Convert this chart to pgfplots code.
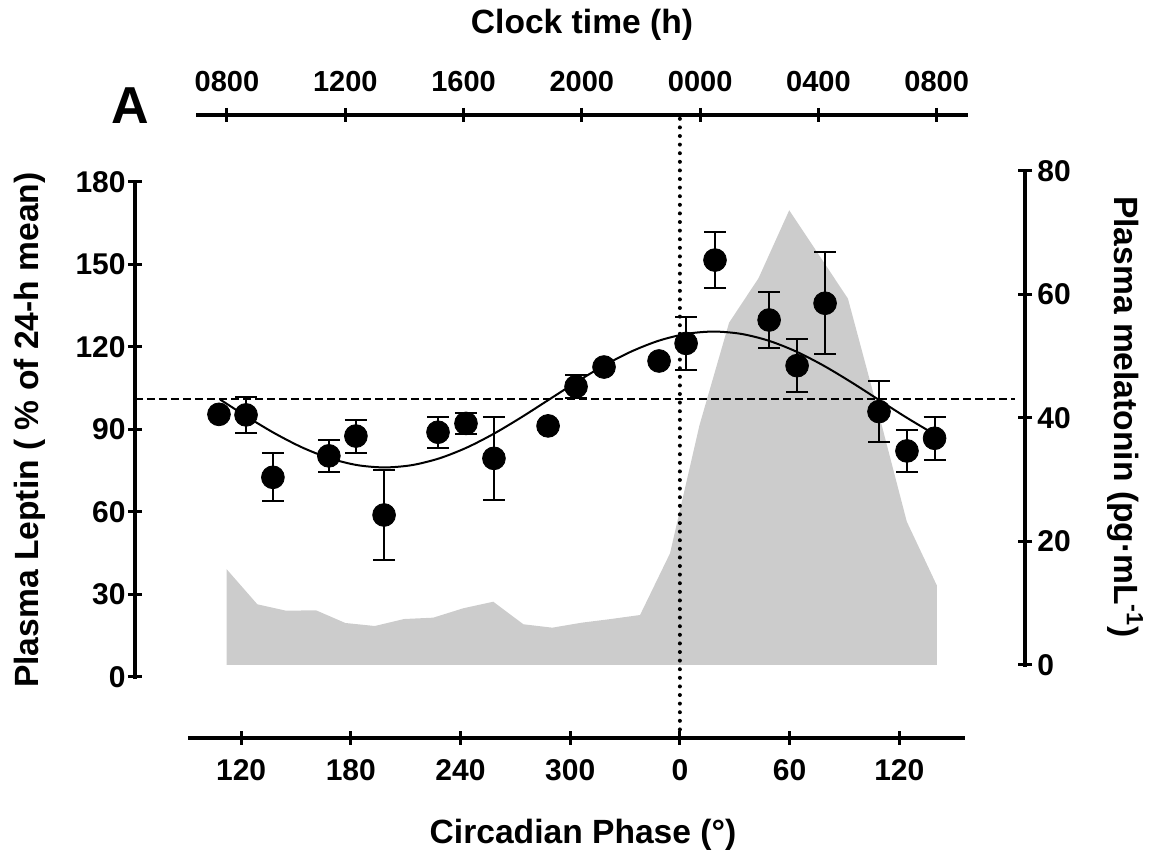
\documentclass[border=0pt]{standalone}
\usepackage{fontspec}
\setmainfont{Liberation Sans}
\usepackage{pgfplots}
\usepackage{pgfplotstable}
\pgfplotsset{compat=1.18}
\definecolor{mel}{HTML}{CCCCCC}

% leptin (% of 24-h mean): phase, mean, SEM
\pgfplotstableread{
x y e
107.9 95.4 0
122.7 95.2 6.5
137.4 72.5 8.7
168.0 80.3 5.7
182.8 87.5 6.0
198.2 58.8 16.3
227.7 88.9 5.7
243.0 92.1 3.7
258.3 79.4 15.0
287.9 91.2 0
303.2 105.5 4.2
318.5 112.6 0
348.6 114.8 0
363.4 121.2 9.6
379.2 151.5 10.3
408.8 129.7 10.3
424.1 113.1 9.6
439.4 135.8 18.5
468.9 96.4 11.2
484.2 82.1 7.7
499.3 86.7 7.8
}\leptin

% fitted cosinor curve
\pgfplotstableread{
x y
108.5 100.8
123.5 94.41
138.5 88.45
153.5 83.33
168.5 79.41
183.5 76.94
198.5 76.1
213.5 76.94
228.5 79.41
243.5 83.33
258.5 88.45
273.5 94.41
288.5 100.8
303.5 107.19
318.5 113.15
333.5 118.27
348.5 122.19
363.5 124.66
378.5 125.5
393.5 124.66
408.5 122.19
423.5 118.27
438.5 113.15
453.5 107.19
468.5 100.8
483.5 94.41
498.5 88.45
}\fit

% melatonin (pg/mL)
\pgfplotstableread{
x y
112.1 0
112.1 15.5
128.9 9.82
144.6 8.79
161.0 8.85
177.0 6.80
193.1 6.31
209.1 7.44
225.1 7.66
241.5 9.18
257.9 10.24
274.4 6.59
290.2 6.04
306.3 6.85
322.2 7.44
338.2 8.09
354.6 18.08
370.7 38.8
386.9 55.4
403.0 62.6
419.8 73.6
435.3 66.7
451.9 59.3
467.5 42.1
484.1 23.2
500.5 12.9
500.5 0
}\melat

\pgfplotsset{
  myaxis/.style={
    scale only axis, anchor=south west,
    tick style={line width=1.5pt, black},
    major tick length=7pt,
    tick align=outside,
    tick label style={font=\fontsize{15}{15}\selectfont\bfseries},
    /pgf/number format/assume math mode=true,
  },
  fixlines/.style={
    axis line style={line width=2pt, -, line cap=rect},
    x axis line style={-}, y axis line style={-},
  },
}

\begin{document}
\begin{tikzpicture}
\useasboundingbox (0,0) rectangle (575pt,430.5pt);
% melatonin (right axis)
\begin{axis}[myaxis, at={(67.5pt,98pt)}, width=445pt, height=247.15pt,
  xmin=61.97, xmax=548.76, ymin=0, ymax=80,
  axis x line=none, axis y line=right, xtick=\empty, fixlines,
  ytick={0,20,40,60,80},
  yticklabel style={inner sep=2.5pt},
  ylabel={Plasma melatonin (pg·mL\textsuperscript{-1})},
  ylabel style={at={(rel axis cs:1.1124,0.5017)}, anchor=center, rotate=180,
    font=\fontsize{16.8}{20}\selectfont\bfseries},
]
\addplot[fill=mel, draw=none] table[x=x,y=y] {\melat};
\end{axis}
% leptin (left axis)
\begin{axis}[myaxis, at={(67.5pt,92.15pt)}, width=445pt, height=247.5pt,
  xmin=61.97, xmax=548.76, ymin=0, ymax=180, clip=false,
  axis x line=none, axis y line=left, xtick=\empty, fixlines,
  ytick={0,30,...,180},
  yticklabel style={inner sep=1pt},
  ylabel={Plasma Leptin ( \% of 24-h mean)},
  ylabel style={at={(rel axis cs:-0.118,0.498)}, anchor=center,
    font=\fontsize{16.8}{20}\selectfont\bfseries},
]
\addplot[black, line width=1pt, dash pattern=on 4pt off 2pt] coordinates {(61.97,100.8) (543.3,100.8)};
\addplot[black, line width=2pt, line cap=round, dash pattern=on 0pt off 4.3pt] coordinates {(360,-22.3) (360,204.25)};
\addplot[black, line width=1pt, smooth] table[x=x,y=y] {\fit};
\addplot[only marks, mark=none, error bars/.cd, y dir=both, y explicit,
  error bar style={line width=1pt, draw=black, solid},
  error mark options={rotate=90, mark size=5.5pt, line width=1pt, draw=black}]
  table[x=x,y=y,y error=e] {\leptin};
\addplot[only marks, mark=*, mark size=5.7pt, black] table[x=x,y=y] {\leptin};
\end{axis}
% circadian phase (bottom axis)
\begin{axis}[myaxis, at={(95pt,61.5pt)}, width=386.5pt, height=20pt,
  xmin=92.05, xmax=514.85, ymin=0, ymax=1,
  axis x line=bottom, axis y line=none, ytick=\empty, fixlines,
  xtick={120,180,...,480}, xticklabels={120,180,240,300,0,60,120},
  xtick style={line width=1.5pt, black},
  xticklabel style={yshift=-3.5pt},
  xlabel={Circadian Phase (°)},
  xlabel style={at={(rel axis cs:0.5084,-2.425)}, anchor=center,
    font=\fontsize{16.8}{20}\selectfont\bfseries},
]
\end{axis}
% clock time (top axis)
\begin{axis}[myaxis, at={(99pt,353pt)}, width=383.85pt, height=20pt,
  xmin=7.02, xmax=32.98, ymin=0, ymax=1,
  axis x line=top, axis y line=none, ytick=\empty, fixlines,
  xtick={8,12,...,32}, xticklabels={0800,1200,1600,2000,0000,0400,0800},
  xtick style={line width=1.5pt, black},
  xticklabel style={font=\fontsize{14.5}{15}\selectfont\bfseries, yshift=4.5pt},
  xlabel={Clock time (h)},
  xlabel style={at={(rel axis cs:0.5002,3.25)}, anchor=center,
    font=\fontsize{16.8}{20}\selectfont\bfseries},
]
\end{axis}
\node[font=\fontsize{26}{26}\selectfont\bfseries] at (65pt,377.5pt) {A};
\end{tikzpicture}
\end{document}
